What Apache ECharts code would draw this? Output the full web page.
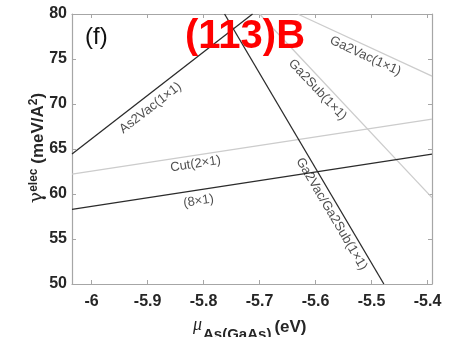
<!DOCTYPE html>
<html>
<head>
<meta charset="utf-8">
<script src="https://cdn.jsdelivr.net/npm/echarts@6/dist/echarts.min.js"></script>
<style>
  html, body { margin: 0; padding: 0; background: #fff; }
  #chart { width: 454px; height: 337px; }
</style>
</head>
<body>
<div id="chart"></div>
<script>
// Electron-counting surface energy of (113)B reconstructions vs. As chemical potential

const xTicks = [-6, -5.9, -5.8, -5.7, -5.6, -5.5, -5.4];
const yTicks = [50, 55, 60, 65, 70, 75, 80];

const lineNames = ['As2Vac(1×1)', 'Ga2Vac/Ga2Sub(1×1)', 'Ga2Sub(1×1)', 'Ga2Vac(1×1)', 'Cut(2×1)', '(8×1)'];

// end points [mu, gamma] of each reconstruction line
const as2Vac       = [[-6.035, 64.44], [-5.7125, 80]];
const ga2VacGa2Sub = [[-5.7625, 80], [-5.478, 50]];
const ga2Sub       = [[-5.70, 80], [-5.392, 59.6]];
const ga2Vac       = [[-5.632, 80], [-5.392, 73.1]];
const cut2x1       = [[-6.035, 62.22], [-5.392, 68.33]];
const recon8x1     = [[-6.035, 58.30], [-5.392, 64.44]];

const lineData = [as2Vac, ga2VacGa2Sub, ga2Sub, ga2Vac, cut2x1, recon8x1];

// ---- styling / layout ----
const DARK = '#2b2b2b';
const LIGHT = '#cccccc';
const lineColors = [DARK, DARK, LIGHT, LIGHT, LIGHT, DARK];
const labelSpots = [
  { at: [-5.8946, 69.56], rot: 37.8 },
  { at: [-5.5714, 57.78], rot: -59.5 },
  { at: [-5.5964, 71.56], rot: -46.8 },
  { at: [-5.511, 75.33], rot: -25 },
  { at: [-5.8143, 63.33], rot: 8.7 },
  { at: [-5.809, 59.22], rot: 8.7 }
];

const FONT = 'Liberation Sans, Arial, sans-serif';
const TEXT = '#262626';
const AXIS_GRAY = '#a6a6a6';
const X_MIN = -6.035, X_MAX = -5.392;

const fmtX = v => String(+(+v).toFixed(1));

// text width helper for composing the axis title pieces
const ctx = document.createElement('canvas').getContext('2d');
function textWidth(str, font) { ctx.font = font; return ctx.measureText(str).width; }

const MU_FONT = 'italic 18px "Liberation Serif"';
const SUB_FONT = 'bold 15px "Liberation Sans"';
const UNIT_FONT = 'bold 17px "Liberation Sans"';
const xTitleLeft = 193;
const muW = textWidth('μ', MU_FONT);
const subText = 'As(GaAs)';
const subW = textWidth(subText, SUB_FONT);
const subX = xTitleLeft + muW + 1;
const unitX = subX + subW + 3;

const chart = echarts.init(document.getElementById('chart'));

const boxAxisX = (pos, showLabel) => ({
  type: 'value', position: pos, min: X_MIN, max: X_MAX,
  axisLine: { show: true, onZero: false, lineStyle: { color: AXIS_GRAY, width: 1.2 } },
  axisTick: { show: true, inside: true, length: 4, customValues: xTicks, lineStyle: { color: AXIS_GRAY } },
  axisLabel: {
    show: showLabel, customValues: xTicks, formatter: fmtX, margin: 10,
    fontFamily: FONT, fontWeight: 'bold', fontSize: 16, color: TEXT
  },
  splitLine: { show: false }
});

const boxAxisY = (pos, showLabel) => ({
  type: 'value', position: pos, min: 50, max: 80, interval: 5,
  axisLine: { show: true, onZero: false, lineStyle: { color: AXIS_GRAY, width: 1.2 } },
  axisTick: { show: true, inside: true, length: 4, lineStyle: { color: AXIS_GRAY } },
  axisLabel: {
    show: showLabel, margin: 5,
    fontFamily: FONT, fontWeight: 'bold', fontSize: 16, color: TEXT
  },
  splitLine: { show: false }
});

const series = lineData.map((d, i) => ({
  type: 'line', name: lineNames[i], data: d, xAxisIndex: 0, yAxisIndex: 0,
  showSymbol: false, symbol: 'none', clip: true, silent: true,
  lineStyle: { color: lineColors[i], width: 1.3 }, z: lineColors[i] === DARK ? 3 : 2
}));

series.push({
  type: 'scatter', xAxisIndex: 0, yAxisIndex: 0, symbolSize: 0, silent: true, z: 6,
  data: lineNames.map((n, i) => ({ name: n, value: labelSpots[i].at, label: { rotate: labelSpots[i].rot } })),
  label: {
    show: true, position: 'inside', formatter: '{b}',
    fontFamily: FONT, fontSize: 13, color: '#222'
  }
});

chart.setOption({
  animation: false,
  backgroundColor: '#fff',
  grid: { left: 72, right: 22, top: 14, bottom: 53, containLabel: false, outerBoundsMode: 'none' },
  xAxis: [boxAxisX('bottom', true), boxAxisX('top', false)],
  yAxis: [boxAxisY('left', true), boxAxisY('right', false)],
  series: series,
  graphic: [
    {
      type: 'text', left: 85, top: 25, z: 10,
      style: { text: '(f)', fontFamily: FONT, fontSize: 24, fill: '#111' }
    },
    {
      type: 'text', x: 245, y: 37, z: 10,
      style: {
        text: '(113)B', fontFamily: FONT, fontWeight: 'bold', fontSize: 40, fill: '#ff0000',
        align: 'center', verticalAlign: 'middle'
      }
    },
    {
      // y-axis title, reading bottom to top
      type: 'text', x: 37, y: 148, rotation: Math.PI / 2, z: 10,
      style: {
        text: '{g|γ}{s|elec}{m| (meV/A}{s|2}{m|)}',
        align: 'center', verticalAlign: 'middle',
        rich: {
          g: { fontFamily: 'DejaVu Serif', fontSize: 19, lineHeight: 19, fill: TEXT, verticalAlign: 'bottom' },
          m: { fontFamily: FONT, fontWeight: 'bold', fontSize: 17, lineHeight: 17, fill: TEXT, verticalAlign: 'bottom' },
          s: { fontFamily: FONT, fontWeight: 'bold', fontSize: 12, lineHeight: 12, fill: TEXT, verticalAlign: 'top', padding: [0, 0, 11, 0] }
        }
      }
    },
    // x-axis title: mu with subscript, then the unit
    {
      type: 'text', x: xTitleLeft, y: 325, z: 10,
      style: { text: 'μ', font: MU_FONT, fill: TEXT, align: 'left', verticalAlign: 'middle' }
    },
    {
      type: 'text', x: subX, y: 335, z: 10,
      style: { text: subText, font: SUB_FONT, fill: TEXT, align: 'left', verticalAlign: 'middle' }
    },
    {
      type: 'text', x: unitX, y: 327, z: 10,
      style: { text: '(eV)', font: UNIT_FONT, fill: TEXT, align: 'left', verticalAlign: 'middle' }
    }
  ]
});
</script>
</body>
</html>
